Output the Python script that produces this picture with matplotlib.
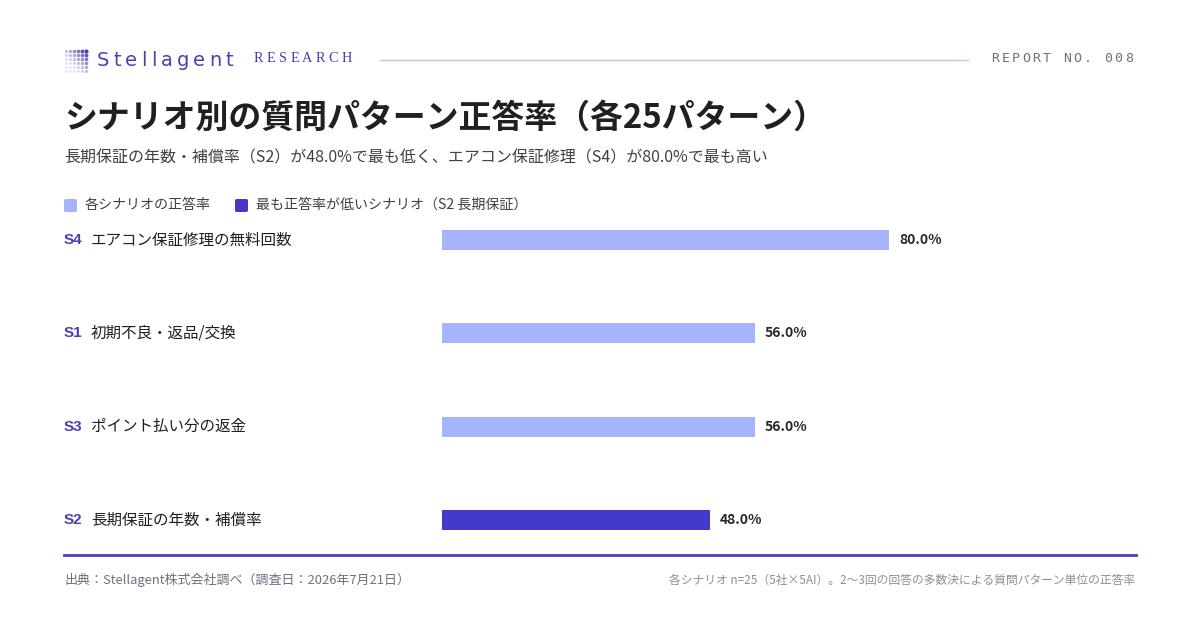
import matplotlib
matplotlib.use("Agg")
import matplotlib.pyplot as plt
import matplotlib.patches as mpatches
import matplotlib.transforms as mtransforms
import numpy as np

plt.rcParams['font.family'] = ['Noto Sans CJK JP', 'DejaVu Sans']

# ---- data ----
codes = ["S4", "S1", "S3", "S2"]
names = ["エアコン保証修理の無料回数", "初期不良・返品/交換", "ポイント払い分の返金", "長期保証の年数・補償率"]
values = [80.0, 56.0, 56.0, 48.0]
highlight = [False, False, False, True]

title = "シナリオ別の質問パターン正答率（各25パターン）"
subtitle = "長期保証の年数・補償率（S2）が48.0%で最も低く、エアコン保証修理（S4）が80.0%で最も高い"
legend_labels = ["各シナリオの正答率", "最も正答率が低いシナリオ（S2 長期保証）"]
source = "出典：Stellagent株式会社調べ（調査日：2026年7月21日）"
note = "各シナリオ n=25（5社×5AI）。2〜3回の回答の多数決による質問パターン単位の正答率"

LIGHT = "#a5b4fc"
DARK = "#4338ca"
ACCENT = "#4a3fb4"
TEXT = "#1f1f24"
GRAY = "#6b7280"

W, H = 1200, 630
fig = plt.figure(figsize=(W / 100, H / 100), dpi=100)
fig.patch.set_facecolor("white")


def fx(px):
    return px / W


def fy(py):
    return 1 - py / H


renderer = fig.canvas.get_renderer()


def spaced_text(x, y, s, extra, **kw):
    """Draw text char by char with extra spacing (px). y is pixel center."""
    cur = x
    for ch in s:
        if ch == " ":
            w = fig.text(0, 0, "n", **kw)
            bb = w.get_window_extent(renderer)
            w.set_visible(False)
            cur += bb.width + extra
            continue
        t = fig.text(fx(cur), fy(y), ch, va="center", ha="left", **kw)
        bb = t.get_window_extent(renderer)
        cur += bb.width + extra
    return cur


# ---- header ----
ax_logo = fig.add_axes([fx(64), fy(73), fx(28), 28 / H])
ax_logo.axis("off")
gx, gy = np.meshgrid(np.arange(6), np.arange(6))
alpha_vals = np.clip(((gx + gy) / 10.0) ** 1.5, 0.08, 1)
for xi, yi, av in zip(gx.ravel(), gy.ravel(), alpha_vals.ravel()):
    ax_logo.scatter(xi, yi, s=3 + 6 * av, color=ACCENT, alpha=max(av, 0.15), lw=0)
ax_logo.set_xlim(-0.5, 6.5)
ax_logo.set_ylim(-0.5, 6.5)

spaced_text(97, 60, "Stellagent", 4.1, fontsize=14, color=ACCENT, family="DejaVu Sans")
spaced_text(254, 58, "RESEARCH", 3.3, fontsize=10.3, color=ACCENT, family="Liberation Serif")
fig.add_artist(plt.Line2D([fx(380), fx(968)], [fy(60), fy(60)], color="#c7c5e6", lw=1))
spaced_text(991, 58, "REPORT NO. 008", 2.3, fontsize=9.5, color=GRAY, family="DejaVu Sans Mono")

# ---- titles ----
fig.text(fx(64), fy(118), title, fontsize=23.7, fontweight="bold", color=TEXT, va="center", ha="left")
fig.text(fx(64), fy(158), subtitle, fontsize=11.5, color="#3f3f46", va="center", ha="left")

# ---- legend ----
lx = 64
for lab, col in zip(legend_labels, [LIGHT, DARK]):
    fig.add_artist(mpatches.FancyBboxPatch(
        (fx(lx), fy(212)), fx(13), 13 / H, boxstyle="round,pad=0,rounding_size=0.002",
        transform=fig.transFigure, facecolor=col, edgecolor="none"))
    t = fig.text(fx(lx + 21), fy(205), lab, fontsize=10.1, color="#3f3f46", va="center", ha="left")
    bb = t.get_window_extent(renderer)
    lx = lx + 21 + bb.width + 24

# ---- bars ----
ax_left, ax_right = 442, 1001
row_top, row_bot = 240, 520
n = len(values)
step = (row_bot - row_top) / (n - 1)
ax = fig.add_axes([fx(ax_left), fy(row_bot + step / 2), (ax_right - ax_left) / W, (row_bot - row_top + step) / H])
ax.set_xlim(0, 100)
ax.set_ylim(-0.5, n - 0.5)
ax.axis("off")
ypos = np.arange(n)[::-1]
bar_h = 20 / step
colors = [DARK if h else LIGHT for h in highlight]
ax.barh(ypos, values, height=bar_h, color=colors, edgecolor="none")
for y, v in zip(ypos, values):
    ax.annotate(f"{v:.1f}%", (v, y), xytext=(7, 0), textcoords="offset points",
                va="center", ha="left", fontsize=10, fontweight="bold", color="#27272a")

trans = mtransforms.blended_transform_factory(fig.transFigure, ax.transData)
for y, c, nm in zip(ypos, codes, names):
    fig.text(fx(64), y, c, transform=trans, fontsize=11, fontweight="bold", color=ACCENT,
             va="center", ha="left", family=["Liberation Sans"])
    fig.text(fx(91), y, nm, transform=trans, fontsize=11.2, color=TEXT, va="center", ha="left")

# ---- footer ----
fig.add_artist(plt.Line2D([fx(64), fx(1136)], [fy(555), fy(555)], color=ACCENT, lw=2))
fig.text(fx(64), fy(580), source, fontsize=9.35, color=GRAY, va="center", ha="left")
fig.text(fx(1135), fy(580), note, fontsize=8.5, color="#8b8f98", va="center", ha="right")

fig.savefig("out.png", dpi=100, facecolor="white")
